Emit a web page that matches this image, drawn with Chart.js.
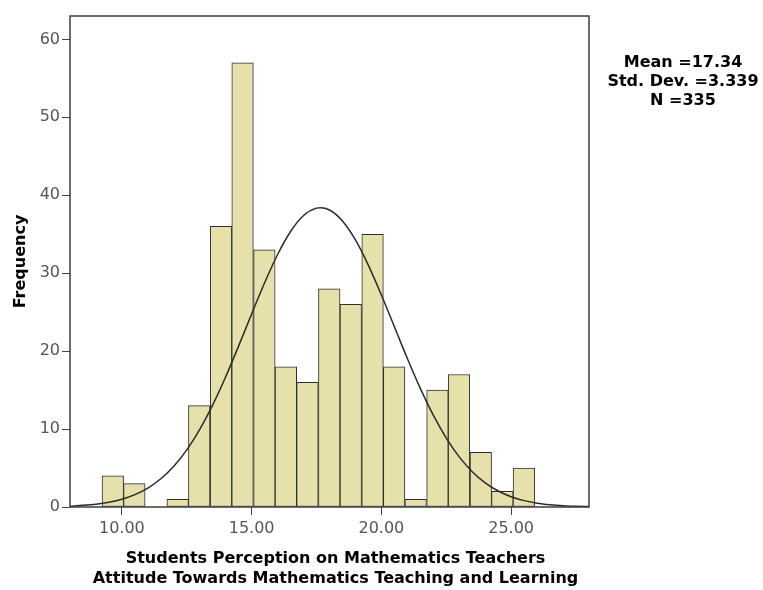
<!DOCTYPE html>
<html>
<head>
<meta charset="utf-8">
<script src="https://cdn.jsdelivr.net/npm/chart.js@4.4.1/dist/chart.umd.min.js"></script>
<style>
html,body{margin:0;padding:0;background:#fff;}
#wrap{width:763px;height:590px;position:relative;}
</style>
</head>
<body>
<div id="wrap"><canvas id="c" width="763" height="590"></canvas></div>
<script>
// Histogram bins (bin centres) and their frequencies
const binCenters = [9.65, 10.48, 11.32, 12.15, 12.98, 13.82, 14.65, 15.49, 16.32, 17.15,
                    17.99, 18.82, 19.66, 20.49, 21.32, 22.16, 22.99, 23.83, 24.66, 25.49];
const frequencies = [4, 3, 0, 1, 13, 36, 57, 33, 18, 16, 28, 26, 35, 18, 1, 15, 17, 7, 2, 5];

// Normal curve, heights
const curveX = [8, 8.5, 9, 9.5, 10, 10.5, 11, 11.5, 12, 12.5, 13, 13.5, 14, 14.5, 15, 15.5,
                16, 16.5, 17, 17.5, 17.65, 18, 18.5, 19, 19.5, 20, 20.5, 21, 21.5, 22, 22.5,
                23, 23.5, 24, 24.5, 25, 25.5, 26, 26.5, 27, 27.5, 28];
const curveY = [0.11, 0.21, 0.36, 0.61, 0.99, 1.58, 2.43, 3.62, 5.23, 7.33, 9.96, 13.11, 16.72,
                20.67, 24.77, 28.77, 32.40, 35.35, 37.40, 38.35, 38.4, 38.11, 36.71, 34.27, 31.01,
                27.20, 23.13, 19.06, 15.22, 11.78, 8.84, 6.43, 4.53, 3.10, 2.05, 1.32, 0.82, 0.49,
                0.29, 0.16, 0.09, 0.05];

const xTicks = [10, 15, 20, 25];
const yTicks = [0, 10, 20, 30, 40, 50, 60];
const statsLines = ['Mean =17.34', 'Std. Dev. =3.339', 'N =335'];
const xTitleLines = ['Students Perception on Mathematics Teachers',
                     'Attitude Towards Mathematics Teaching and Learning'];
const yTitle = 'Frequency';

const barData = binCenters.map((x, i) => ({x: x, y: frequencies[i]}));
const curveData = curveX.map((x, i) => ({x: x, y: curveY[i]}));

const decor = {
  id: 'decor',
  afterDatasetsDraw(chart) {
    const {ctx, chartArea: a} = chart;
    ctx.save();
    ctx.strokeStyle = '#3c3c3c';
    ctx.lineWidth = 1.5;
    ctx.strokeRect(a.left, a.top, a.right - a.left, a.bottom - a.top);
    ctx.restore();
  },
  afterDraw(chart) {
    const ctx = chart.ctx;
    ctx.save();
    ctx.fillStyle = '#000';
    ctx.font = 'bold 16px "DejaVu Sans"';
    ctx.textAlign = 'center';
    ctx.textBaseline = 'alphabetic';
    statsLines.forEach((t, i) => ctx.fillText(t, 683, 66.5 + i * 19.3));
    xTitleLines.forEach((t, i) => ctx.fillText(t, 335.5, 563 + i * 19.5));
    ctx.restore();
  }
};

new Chart(document.getElementById('c'), {
  type: 'bar',
  data: {
    datasets: [
      {
        type: 'line',
        data: curveData,
        borderColor: '#2b2b2b',
        borderWidth: 1.5,
        pointRadius: 0,
        fill: false,
        cubicInterpolationMode: 'monotone',
        order: 0
      },
      {
        type: 'bar',
        data: barData,
        backgroundColor: '#e6e1ab',
        borderColor: '#2e2e2e',
        borderWidth: 1,
        borderSkipped: false,
        barPercentage: 1,
        categoryPercentage: 1,
        order: 1
      }
    ]
  },
  options: {
    responsive: false,
    animation: false,
    devicePixelRatio: 1,
    layout: {padding: {left: 0, top: 16, right: 174, bottom: 0}},
    plugins: {legend: {display: false}, tooltip: {enabled: false}},
    scales: {
      x: {
        type: 'linear',
        min: 8,
        max: 28,
        offset: false,
        afterBuildTicks: (axis) => { axis.ticks = xTicks.map(v => ({value: v})); },
        afterFit: (scale) => { scale.height = 83; },
        grid: {offset: false, drawOnChartArea: false, drawTicks: true, tickLength: 8, color: '#444', lineWidth: 1},
        border: {display: false},
        ticks: {
          color: '#555',
          font: {family: 'DejaVu Sans', size: 16},
          padding: 4,
          maxRotation: 0,
          autoSkip: false,
          callback: (v) => Number(v).toFixed(2)
        }
      },
      y: {
        min: 0,
        max: 63,
        afterBuildTicks: (axis) => { axis.ticks = yTicks.map(v => ({value: v})); },
        afterFit: (scale) => { scale.width = 70; },
        grid: {offset: false, drawOnChartArea: false, drawTicks: true, tickLength: 8, color: '#444', lineWidth: 1},
        border: {display: false},
        ticks: {
          color: '#555',
          font: {family: 'DejaVu Sans', size: 16},
          padding: 2
        },
        title: {
          display: true,
          text: yTitle,
          color: '#000',
          font: {family: 'DejaVu Sans', size: 16, weight: 'bold'},
          padding: {top: 11, bottom: 0}
        }
      }
    }
  },
  plugins: [decor]
});
</script>
</body>
</html>
